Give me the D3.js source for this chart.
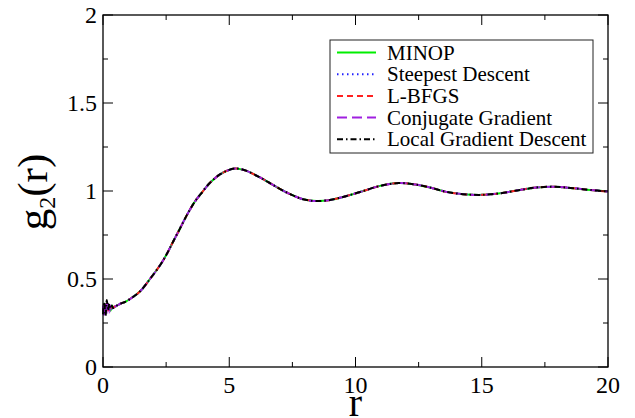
<!DOCTYPE html>
<html><head><meta charset="utf-8">
<script src="https://cdn.jsdelivr.net/npm/d3@7"></script>
<style>body{margin:0;background:#fff}svg{display:block}text{font-family:"Liberation Serif","Times New Roman",serif}</style>
</head><body><svg id="c" width="635" height="418"></svg>
<script>
// ---- data ----
const rHead = [0, 0.05, 0.1, 0.15, 0.2, 0.25, 0.3, 0.35, 0.4];
const headMINOP    = [0.33, 0.36, 0.31, 0.35, 0.33, 0.34, 0.32, 0.35, 0.34];
const headSteepest = [0.34, 0.31, 0.36, 0.33, 0.35, 0.32, 0.34, 0.33, 0.345];
const headLBFGS    = [0.32, 0.35, 0.33, 0.36, 0.32, 0.345, 0.33, 0.34, 0.34];
const headCG       = [0.35, 0.28, 0.37, 0.30, 0.36, 0.31, 0.35, 0.33, 0.34];
const headLGD      = [0.30, 0.37, 0.29, 0.38, 0.32, 0.36, 0.33, 0.35, 0.335];
const rTail = [0.5, 0.67, 0.9, 1.13, 1.47, 1.86, 2.26, 2.52, 2.78, 3.05, 3.31, 3.64, 3.91, 4.24, 4.63, 4.96, 5.23, 5.36, 5.69, 6.22, 6.75, 7.41, 7.93, 8.46, 8.99, 9.65, 10.31, 10.97, 11.7, 12.29, 12.95, 13.6, 14.27, 15.0, 15.72, 16.51, 17.18, 17.83, 18.63, 19.29, 20];
const gTail = [0.345, 0.358, 0.372, 0.392, 0.43, 0.50, 0.578, 0.64, 0.713, 0.787, 0.86, 0.94, 0.99, 1.047, 1.094, 1.118, 1.128, 1.127, 1.114, 1.077, 1.033, 0.982, 0.953, 0.943, 0.949, 0.972, 1.0, 1.029, 1.045, 1.039, 1.02, 0.995, 0.982, 0.978, 0.987, 1.006, 1.02, 1.024, 1.016, 1.006, 0.997];
const seriesNames = ["MINOP", "Steepest Descent", "L-BFGS", "Conjugate Gradient", "Local Gradient Descent"];
const seriesHeads = [headMINOP, headSteepest, headLBFGS, headCG, headLGD];
const xTicks = [0, 5, 10, 15, 20];
const yTicks = [0, 0.5, 1, 1.5, 2];
const yTickLabels = ["0", "0.5", "1", "1.5", "2"];

// ---- styles ----
const colors = ["#00ee00", "#2020ff", "#ff2020", "#a020e0", "#000000"];
const dashes = [null, "1.5,3.5", "6,4", "10,5", "6,3,1.5,3"];

const svg = d3.select("#c");
const L = 103, R = 608, T = 15, B = 367;
const x = d3.scaleLinear().domain([0, 20]).range([L, R]);
const y = d3.scaleLinear().domain([0, 2]).range([B, T]);

// series
const line = d3.line().x(d => x(d[0])).y(d => y(d[1])).curve(d3.curveCatmullRom.alpha(0.5));
const tail = rTail.map((r, i) => [r, gTail[i]]);
seriesHeads.forEach((h, k) => {
  const pts = rHead.map((r, i) => [r, h[i]]).concat(tail);
  const p = svg.append("path").attr("d", line(pts)).attr("fill", "none")
    .attr("stroke", colors[k]).attr("stroke-width", 2);
  if (dashes[k]) p.attr("stroke-dasharray", dashes[k]);
});

// frame
svg.append("rect").attr("x", L).attr("y", T).attr("width", R - L).attr("height", B - T)
  .attr("fill", "none").attr("stroke", "#000").attr("stroke-width", 1.3);

// ticks (inward, mirrored)
const tk = svg.append("g").attr("stroke", "#000").attr("stroke-width", 1);
d3.range(0, 20.001, 2.5).forEach(v => {
  const len = (v % 5 === 0) ? 10 : 5;
  tk.append("line").attr("x1", x(v)).attr("x2", x(v)).attr("y1", B).attr("y2", B - len);
  tk.append("line").attr("x1", x(v)).attr("x2", x(v)).attr("y1", T).attr("y2", T + len);
});
d3.range(0, 2.001, 0.25).forEach(v => {
  const len = (Math.abs(v * 2 - Math.round(v * 2)) < 1e-6) ? 10 : 5;
  tk.append("line").attr("y1", y(v)).attr("y2", y(v)).attr("x1", L).attr("x2", L + len);
  tk.append("line").attr("y1", y(v)).attr("y2", y(v)).attr("x1", R).attr("x2", R - len);
});

// tick labels
svg.append("g").selectAll("text").data(xTicks).join("text")
  .attr("x", d => x(d)).attr("y", B + 26).attr("text-anchor", "middle")
  .attr("font-size", 24).text(d => d);
svg.append("g").selectAll("text").data(yTicks).join("text")
  .attr("x", L - 6).attr("y", d => y(d) + 8).attr("text-anchor", "end")
  .attr("font-size", 24).text((d, i) => yTickLabels[i]);

// axis titles
svg.append("text").attr("x", (L + R) / 2).attr("y", 416).attr("text-anchor", "middle")
  .attr("font-size", 40).text("r");
const yt = svg.append("text").attr("transform", `translate(47,192) rotate(-90)`)
  .attr("text-anchor", "middle").attr("font-size", 43);
yt.append("tspan").text("g");
yt.append("tspan").attr("font-size", 24).attr("dy", 8).text("2");
yt.append("tspan").attr("dy", -8).text("(r)");

// legend
const lg = svg.append("g");
lg.append("rect").attr("x", 330).attr("y", 40).attr("width", 263).attr("height", 113)
  .attr("fill", "#fff").attr("stroke", "#222").attr("stroke-width", 1);
seriesNames.forEach((n, k) => {
  const cy = 52.5 + k * 21.7;
  const l = lg.append("line").attr("x1", 337).attr("x2", 376).attr("y1", cy).attr("y2", cy)
    .attr("stroke", colors[k]).attr("stroke-width", 2);
  if (dashes[k]) l.attr("stroke-dasharray", dashes[k]);
  lg.append("text").attr("x", 387).attr("y", cy + 7).attr("font-size", 21).text(n);
});
</script></body></html>
